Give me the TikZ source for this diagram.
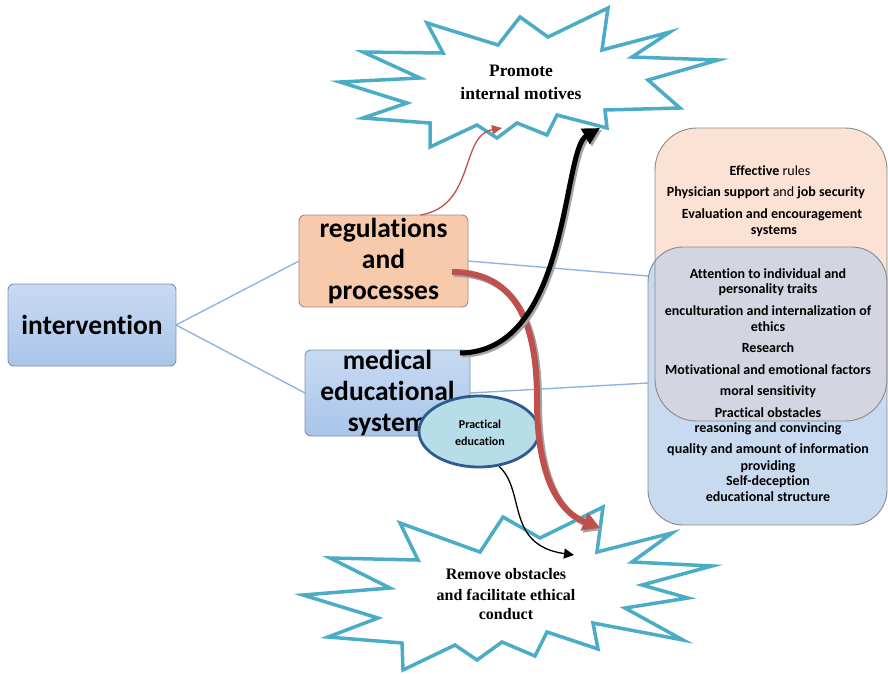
\documentclass[tikz,border=0pt]{standalone}
\usepackage{fontspec}
\setmainfont{Carlito}[Ligatures=NoCommon, RawFeature={-liga;-clig;-calt;-dlig}]
\newfontfamily\starfont{Liberation Serif}
\usetikzlibrary{arrows.meta,shapes.geometric}

\definecolor{linkblue}{HTML}{8EB4E3}
\definecolor{starblue}{HTML}{4BACC6}
\definecolor{regfill}{HTML}{F8CAAC}
\definecolor{regedge}{HTML}{A08C80}
\definecolor{bluetop}{HTML}{C8DAF2}
\definecolor{bluebot}{HTML}{A9C5E9}
\definecolor{blueedge}{HTML}{8093AD}
\definecolor{ellfill}{HTML}{B7DDE8}
\definecolor{elledge}{HTML}{2F5B8C}
\definecolor{redarrow}{HTML}{C0504D}
\definecolor{obfill}{HTML}{FBE2D5}
\definecolor{bbfill}{HTML}{C8DAF0}
\definecolor{gbfill}{HTML}{D3D5E0}
\definecolor{bigedge}{HTML}{8A8A8A}
\definecolor{shadowgray}{HTML}{A5A5A5}

\begin{document}
\begin{tikzpicture}[x=1pt,y=-1pt,
  star/.style={draw=starblue, line width=3.5pt, fill=white, line join=miter},
  link/.style={draw=linkblue, line width=1.4pt},
  mainbox/.style={rounded corners=6pt, line width=0.9pt, align=center, inner sep=0pt, outer sep=0pt, font=\fontsize{27.5}{31}\selectfont\bfseries},
  bigbox/.style={inner sep=0pt, outer sep=0pt},
  stxt/.style={anchor=base, font=\starfont\bfseries\fontsize{17.5}{21}\selectfont},
  btxt/.style={anchor=base, font=\starfont\bfseries\fontsize{16}{20}\selectfont},
  rtxt/.style={anchor=base, font=\fontsize{14}{17}\selectfont},
  rtxtb/.style={anchor=base, font=\fontsize{14}{17}\selectfont\bfseries},
  etxt/.style={anchor=base, font=\fontsize{12}{14}\selectfont\bfseries},
]
\useasboundingbox (0,0) rectangle (888,673);
\clip (0,0) rectangle (888,673);

% big right boxes
\node[bigbox, fill=obfill, rounded corners=42pt, minimum width=232pt, minimum height=293pt] (obox) at (771,274.5) {};
\node[bigbox, fill=bbfill, rounded corners=35pt, minimum width=239pt, minimum height=278pt] (bbox) at (767.5,386) {};
\begin{scope}
  \clip[rounded corners=42pt] (obox.south west) rectangle (obox.north east);
  \fill[gbfill, rounded corners=35pt] (bbox.south west) rectangle (bbox.north east);
\end{scope}
\draw[bigedge, line width=0.9pt, rounded corners=42pt] (obox.south west) rectangle (obox.north east);
\draw[bigedge, line width=0.9pt, rounded corners=35pt] (bbox.south west) rectangle (bbox.north east);

\node[rtxt] (o1) at (770,175) {{\bfseries Effective} rules};
\node[rtxt] (o2) at (766,196) {{\bfseries Physician support} and {\bfseries job security}};
\node[rtxtb] (o3) at (772,218) {Evaluation and encouragement};
\node[rtxtb] (o4) at (774,234) {systems};
\node[rtxtb] (b1) at (768,278) {Attention to individual and};
\node[rtxtb] (b2) at (768,293) {personality traits};
\node[rtxtb] (b3) at (768,315) {enculturation and internalization of};
\node[rtxtb] (b4) at (768,331) {ethics};
\node[rtxtb] (b5) at (768,352) {Research};
\node[rtxtb] (b6) at (768,374) {Motivational and emotional factors};
\node[rtxtb] (b7) at (768,395) {moral sensitivity};
\node[rtxtb] (b8) at (768,417) {Practical obstacles};
\node[rtxtb] (b9) at (768,432) {reasoning and convincing};
\node[rtxtb] (b10) at (768,453) {quality and amount of information};
\node[rtxtb] (b11) at (768,470) {providing};
\node[rtxtb] (b12) at (768,485) {Self-deception};
\node[rtxtb] (b13) at (768,501) {educational structure};

% main boxes
\node[mainbox, draw=blueedge, top color=bluetop, bottom color=bluebot, minimum width=168pt, minimum height=82pt] (int) at (92,325) {intervention};
\node[mainbox, draw=regedge, fill=regfill, minimum width=169pt, minimum height=92pt] (reg) at (383.5,261) {regulations\\and\\processes};
\node[mainbox, draw=blueedge, top color=bluetop, bottom color=bluebot, minimum width=165pt, minimum height=86pt] (med) at (387.5,393) {medical\\educational\\system};

% links
\draw[link] (int.east) -- (reg.west);
\draw[link] (int.east) -- (med.west);
\draw[link] (reg.east) -- ([yshift=110pt]bbox.west);
\draw[link] (med.east) -- ([yshift=3pt]bbox.west);

% top star
\draw[star] (340,82) -- (420,78) -- (363,52) -- (443,53) -- (427,23) -- (498,45) -- (520,17) -- (548,37) -- (608,8) -- (602,50) -- (670,32) -- (632,57) -- (718,60) -- (648,80) -- (680,108) -- (605,110) -- (607,128) -- (557,115) -- (547,135) -- (517,123) -- (497,138) -- (477,125) -- (430,147) -- (430,123) -- (363,118) -- (407,103) -- cycle;
\node[stxt] (ts1) at (521,76) {Promote};
\node[stxt] (ts2) at (521,99) {internal motives};
\coordinate (tsr) at (502,128);
\coordinate (tsb) at (600,128);

% bottom star
\draw[star] (303,595) -- (390,588) -- (330,558) -- (418,560) -- (400,523) -- (480,552) -- (503,517) -- (540,538) -- (603,507) -- (597,552) -- (672,533) -- (632,562) -- (712,566) -- (642,585) -- (688,598) -- (625,608) -- (683,640) -- (593,623) -- (598,649) -- (547,632) -- (535,656) -- (502,642) -- (477,660) -- (455,645) -- (403,670) -- (402,643) -- (328,637) -- (378,618) -- cycle;
\node[btxt] (bs1) at (506,579) {Remove obstacles};
\node[btxt] (bs2) at (506,600) {and facilitate ethical};
\node[btxt] (bs3) at (506,619) {conduct};
\coordinate (bsr) at (600,528);
\coordinate (bsb) at (574,555);
\coordinate (rwp) at (537,400);

% ellipse
\node[ellipse, draw=elledge, line width=2.8pt, fill=ellfill, minimum width=120pt, minimum height=71pt, inner sep=0pt] (ell) at (479,431.5) {};
\node[etxt] (e1) at (480,428) {Practical};
\node[etxt] (e2) at (480,445) {education};

% thin red arrow
\draw[redarrow, line width=1.3pt, -{Triangle[length=10pt,width=9pt]}] ([xshift=37pt]reg.north) .. controls +(55,-9) and +(-42,7) .. (tsr);

% thick red arrow with shadow
\draw[shadowgray, line width=6pt, -{Triangle[length=17pt,width=18pt]}] ([xshift=-14pt,yshift=-13pt]reg.east) .. controls +(68,0) and +(0,-70) .. ([xshift=2pt,yshift=-2pt]rwp) .. controls +(0,70) and +(-45,-18) .. ([xshift=2pt,yshift=-2pt]bsr);
\draw[redarrow, line width=6pt, -{Triangle[length=17pt,width=18pt]}] ([xshift=-16pt,yshift=-11pt]reg.east) .. controls +(68,0) and +(0,-70) .. (rwp) .. controls +(0,70) and +(-45,-18) .. (bsr);

% thick black arrow with shadow
\draw[shadowgray, line width=5pt, -{Triangle[length=17pt,width=17pt]}] ([xshift=-8pt,yshift=-5pt]med.north east) .. controls +(110,-1) and +(-38,22) .. ([xshift=2pt,yshift=-2pt]tsb);
\draw[black, line width=5pt, -{Triangle[length=17pt,width=17pt]}] ([xshift=-10pt,yshift=-3pt]med.north east) .. controls +(110,-1) and +(-38,22) .. (tsb);

% thin black arrow
\draw[black, line width=1.3pt, -{Triangle[length=10pt,width=10pt]}] (ell.-60) .. controls +(27,25) and +(-69,-10) .. (bsb);
\end{tikzpicture}
\end{document}
